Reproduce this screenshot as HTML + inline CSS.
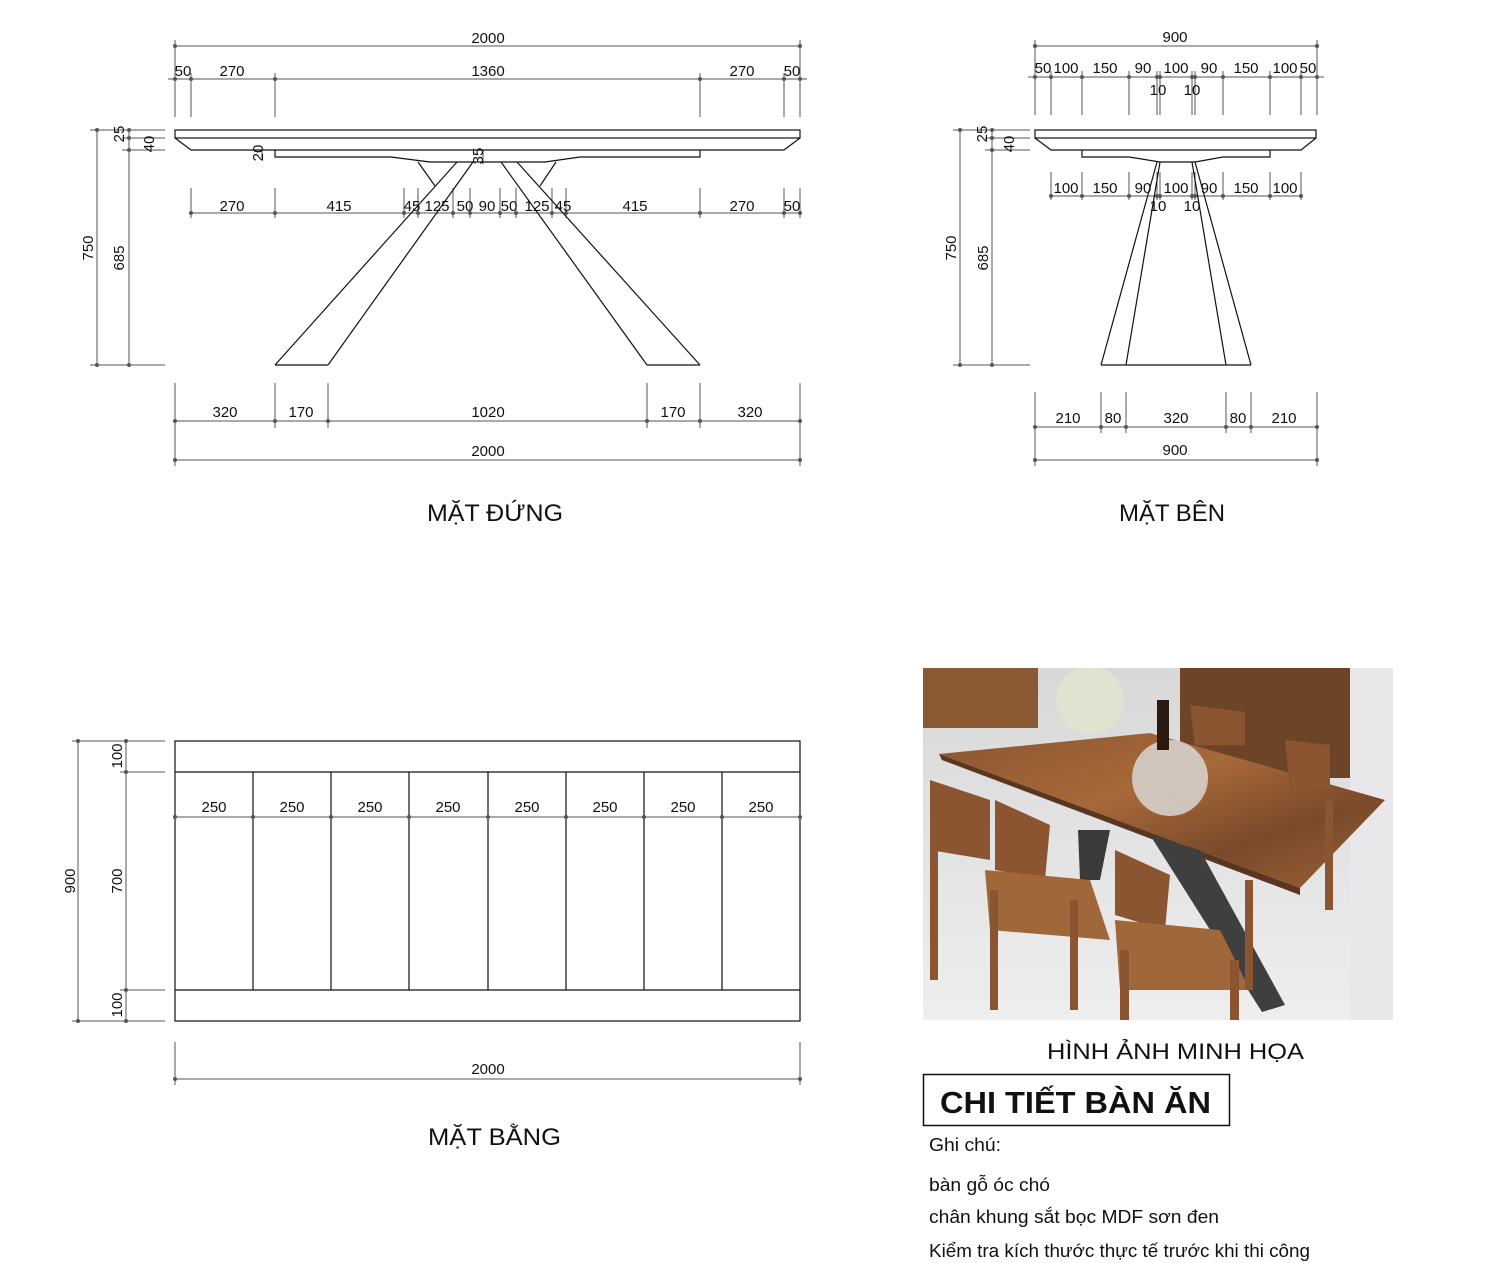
<!DOCTYPE html>
<html><head><meta charset="utf-8"><style>
html,body{margin:0;padding:0;background:#fff;}
svg{display:block;}
text{font-family:"Liberation Sans",sans-serif;}
</style></head><body>
<svg width="1505" height="1263" viewBox="0 0 1505 1263" xmlns="http://www.w3.org/2000/svg">
<defs>
<linearGradient id="wood" x1="0" y1="0" x2="1" y2="1">
<stop offset="0" stop-color="#8a5530"/><stop offset="0.4" stop-color="#a8693a"/><stop offset="0.7" stop-color="#7a4a2a"/><stop offset="1" stop-color="#9a6038"/></linearGradient>
<linearGradient id="floor" x1="0" y1="0" x2="0" y2="1"><stop offset="0" stop-color="#d8d8d8"/><stop offset="1" stop-color="#eeeeee"/></linearGradient>
</defs>
<g fill="none" stroke="#555" stroke-width="1">
<line x1="175" y1="46" x2="800" y2="46"/>
<line x1="168" y1="79" x2="807" y2="79"/>
<line x1="175" y1="40" x2="175" y2="117"/><line x1="800" y1="40" x2="800" y2="117"/>
<line x1="191" y1="73" x2="191" y2="117"/><line x1="275" y1="73" x2="275" y2="117"/>
<line x1="700" y1="73" x2="700" y2="117"/><line x1="784" y1="73" x2="784" y2="117"/>
<line x1="97" y1="130" x2="97" y2="365"/><line x1="129" y1="130" x2="129" y2="365"/>
<line x1="90" y1="130" x2="165" y2="130"/><line x1="122" y1="138" x2="165" y2="138"/>
<line x1="122" y1="150" x2="165" y2="150"/><line x1="90" y1="365" x2="165" y2="365"/>
<line x1="262" y1="150" x2="262" y2="158"/><line x1="483" y1="150" x2="483" y2="164"/>
<line x1="191" y1="213" x2="800" y2="213"/>
<g>
<line x1="191" y1="188" x2="191" y2="218"/><line x1="275" y1="188" x2="275" y2="218"/>
<line x1="404" y1="188" x2="404" y2="218"/><line x1="418" y1="188" x2="418" y2="218"/>
<line x1="453" y1="188" x2="453" y2="218"/><line x1="470" y1="188" x2="470" y2="218"/>
<line x1="500" y1="188" x2="500" y2="218"/><line x1="516" y1="188" x2="516" y2="218"/>
<line x1="552" y1="188" x2="552" y2="218"/><line x1="566" y1="188" x2="566" y2="218"/>
<line x1="700" y1="188" x2="700" y2="218"/><line x1="784" y1="188" x2="784" y2="218"/>
<line x1="800" y1="188" x2="800" y2="218"/>
</g>
<line x1="175" y1="421" x2="800" y2="421"/><line x1="175" y1="460" x2="800" y2="460"/>
<line x1="175" y1="383" x2="175" y2="466"/><line x1="800" y1="383" x2="800" y2="466"/>
<line x1="275" y1="383" x2="275" y2="428"/><line x1="328" y1="383" x2="328" y2="428"/>
<line x1="647" y1="383" x2="647" y2="428"/><line x1="700" y1="383" x2="700" y2="428"/>
</g>
<g fill="none" stroke="#111" stroke-width="1.2">
<rect x="175" y="130" width="625" height="8"/>
<polyline points="175,138 191,150 784,150 800,138"/>
<polyline points="275,150 275,157 391,157 430,162 545,162 580,157 700,157 700,150"/>
<line x1="275" y1="365" x2="328" y2="365"/>
<line x1="275" y1="365" x2="457" y2="162"/><line x1="328" y1="365" x2="473" y2="162"/>
<line x1="647" y1="365" x2="700" y2="365"/>
<line x1="700" y1="365" x2="517" y2="162"/><line x1="647" y1="365" x2="501" y2="162"/>
<line x1="418" y1="162" x2="435" y2="186"/><line x1="556" y1="162" x2="540" y2="186"/>
</g>
<g fill="#555">
<circle cx="175" cy="46" r="2"/><circle cx="800" cy="46" r="2"/>
<circle cx="175" cy="79" r="2"/><circle cx="191" cy="79" r="2"/><circle cx="275" cy="79" r="2"/><circle cx="700" cy="79" r="2"/><circle cx="784" cy="79" r="2"/><circle cx="800" cy="79" r="2"/>
<circle cx="97" cy="130" r="2"/><circle cx="97" cy="365" r="2"/><circle cx="129" cy="130" r="2"/><circle cx="129" cy="138" r="2"/><circle cx="129" cy="150" r="2"/><circle cx="129" cy="365" r="2"/>
<circle cx="191" cy="213" r="2"/><circle cx="275" cy="213" r="2"/><circle cx="404" cy="213" r="2"/><circle cx="418" cy="213" r="2"/><circle cx="453" cy="213" r="2"/><circle cx="470" cy="213" r="2"/><circle cx="500" cy="213" r="2"/><circle cx="516" cy="213" r="2"/><circle cx="552" cy="213" r="2"/><circle cx="566" cy="213" r="2"/><circle cx="700" cy="213" r="2"/><circle cx="784" cy="213" r="2"/><circle cx="800" cy="213" r="2"/>
<circle cx="175" cy="421" r="2"/><circle cx="275" cy="421" r="2"/><circle cx="328" cy="421" r="2"/><circle cx="647" cy="421" r="2"/><circle cx="700" cy="421" r="2"/><circle cx="800" cy="421" r="2"/>
<circle cx="175" cy="460" r="2"/><circle cx="800" cy="460" r="2"/>
</g>
<g font-size="15" fill="#111" text-anchor="middle">
<text x="488" y="43">2000</text>
<text x="183" y="76">50</text><text x="232" y="76">270</text><text x="488" y="76">1360</text><text x="742" y="76">270</text><text x="792" y="76">50</text>
<text x="232" y="211">270</text><text x="339" y="211">415</text><text x="412" y="211">45</text><text x="437" y="211">125</text><text x="465" y="211">50</text><text x="487" y="211">90</text><text x="509" y="211">50</text><text x="537" y="211">125</text><text x="563" y="211">45</text><text x="635" y="211">415</text><text x="742" y="211">270</text><text x="792" y="211">50</text>
<text x="225" y="417">320</text><text x="301" y="417">170</text><text x="488" y="417">1020</text><text x="673" y="417">170</text><text x="750" y="417">320</text>
<text x="488" y="456">2000</text>
<text transform="translate(93,248) rotate(-90)">750</text>
<text transform="translate(124,258) rotate(-90)">685</text>
<text transform="translate(124,134) rotate(-90)">25</text>
<text transform="translate(154,144) rotate(-90)">40</text>
<text transform="translate(263,153) rotate(-90)">20</text>
<text transform="translate(483,156) rotate(-90)">35</text>
</g>
<text x="427" y="521" font-size="24" fill="#111" textLength="136" lengthAdjust="spacingAndGlyphs">MẶT ĐỨNG</text>

<g fill="none" stroke="#555" stroke-width="1">
<line x1="1035" y1="46" x2="1317" y2="46"/>
<line x1="1028" y1="77" x2="1324" y2="77"/>
<line x1="1035" y1="40" x2="1035" y2="115"/><line x1="1317" y1="40" x2="1317" y2="115"/>
<line x1="1051" y1="71" x2="1051" y2="115"/><line x1="1082" y1="71" x2="1082" y2="115"/><line x1="1129" y1="71" x2="1129" y2="115"/>
<line x1="1157" y1="71" x2="1157" y2="115"/><line x1="1160" y1="71" x2="1160" y2="115"/><line x1="1192" y1="71" x2="1192" y2="115"/><line x1="1195" y1="71" x2="1195" y2="115"/>
<line x1="1223" y1="71" x2="1223" y2="115"/><line x1="1270" y1="71" x2="1270" y2="115"/><line x1="1301" y1="71" x2="1301" y2="115"/>
<line x1="960" y1="130" x2="960" y2="365"/><line x1="992" y1="130" x2="992" y2="365"/>
<line x1="953" y1="130" x2="1030" y2="130"/><line x1="985" y1="138" x2="1030" y2="138"/><line x1="985" y1="150" x2="1030" y2="150"/><line x1="953" y1="365" x2="1030" y2="365"/>
<line x1="1051" y1="196" x2="1301" y2="196"/>
<line x1="1051" y1="172" x2="1051" y2="200"/><line x1="1082" y1="172" x2="1082" y2="200"/><line x1="1129" y1="172" x2="1129" y2="200"/><line x1="1157" y1="172" x2="1157" y2="200"/><line x1="1160" y1="172" x2="1160" y2="200"/><line x1="1192" y1="172" x2="1192" y2="200"/><line x1="1195" y1="172" x2="1195" y2="200"/><line x1="1223" y1="172" x2="1223" y2="200"/><line x1="1270" y1="172" x2="1270" y2="200"/><line x1="1301" y1="172" x2="1301" y2="200"/>
<line x1="1035" y1="427" x2="1317" y2="427"/><line x1="1035" y1="460" x2="1317" y2="460"/>
<line x1="1035" y1="392" x2="1035" y2="466"/><line x1="1317" y1="392" x2="1317" y2="466"/>
<line x1="1101" y1="392" x2="1101" y2="433"/><line x1="1126" y1="392" x2="1126" y2="433"/><line x1="1226" y1="392" x2="1226" y2="433"/><line x1="1251" y1="392" x2="1251" y2="433"/>
</g>
<g fill="none" stroke="#111" stroke-width="1.2">
<rect x="1035" y="130" width="281" height="8"/>
<polyline points="1035,138 1051,150 1301,150 1316,138"/>
<polyline points="1082,150 1082,157 1129,157 1160,162 1195,162 1223,157 1270,157 1270,150"/>
<line x1="1157" y1="162" x2="1101" y2="365"/><line x1="1160" y1="162" x2="1126" y2="365"/>
<line x1="1192" y1="162" x2="1226" y2="365"/><line x1="1195" y1="162" x2="1251" y2="365"/>
<line x1="1101" y1="365" x2="1251" y2="365"/>
</g>
<g fill="#555">
<circle cx="1035" cy="46" r="2"/><circle cx="1317" cy="46" r="2"/>
<circle cx="1035" cy="77" r="2"/><circle cx="1051" cy="77" r="2"/><circle cx="1082" cy="77" r="2"/><circle cx="1129" cy="77" r="2"/><circle cx="1157" cy="77" r="2"/><circle cx="1160" cy="77" r="2"/><circle cx="1192" cy="77" r="2"/><circle cx="1195" cy="77" r="2"/><circle cx="1223" cy="77" r="2"/><circle cx="1270" cy="77" r="2"/><circle cx="1301" cy="77" r="2"/><circle cx="1317" cy="77" r="2"/>
<circle cx="960" cy="130" r="2"/><circle cx="960" cy="365" r="2"/><circle cx="992" cy="130" r="2"/><circle cx="992" cy="138" r="2"/><circle cx="992" cy="150" r="2"/><circle cx="992" cy="365" r="2"/>
<circle cx="1051" cy="196" r="2"/><circle cx="1082" cy="196" r="2"/><circle cx="1129" cy="196" r="2"/><circle cx="1157" cy="196" r="2"/><circle cx="1160" cy="196" r="2"/><circle cx="1192" cy="196" r="2"/><circle cx="1195" cy="196" r="2"/><circle cx="1223" cy="196" r="2"/><circle cx="1270" cy="196" r="2"/><circle cx="1301" cy="196" r="2"/>
<circle cx="1035" cy="427" r="2"/><circle cx="1101" cy="427" r="2"/><circle cx="1126" cy="427" r="2"/><circle cx="1226" cy="427" r="2"/><circle cx="1251" cy="427" r="2"/><circle cx="1317" cy="427" r="2"/>
<circle cx="1035" cy="460" r="2"/><circle cx="1317" cy="460" r="2"/>
</g>
<g font-size="15" fill="#111" text-anchor="middle">
<text x="1175" y="42">900</text>
<text x="1043" y="73">50</text><text x="1066" y="73">100</text><text x="1105" y="73">150</text><text x="1143" y="73">90</text><text x="1176" y="73">100</text><text x="1209" y="73">90</text><text x="1246" y="73">150</text><text x="1285" y="73">100</text><text x="1308" y="73">50</text>
<text x="1158" y="95">10</text><text x="1192" y="95">10</text>
<text x="1066" y="193">100</text><text x="1105" y="193">150</text><text x="1143" y="193">90</text><text x="1176" y="193">100</text><text x="1209" y="193">90</text><text x="1246" y="193">150</text><text x="1285" y="193">100</text>
<text x="1158" y="211">10</text><text x="1192" y="211">10</text>
<text x="1068" y="423">210</text><text x="1113" y="423">80</text><text x="1176" y="423">320</text><text x="1238" y="423">80</text><text x="1284" y="423">210</text>
<text x="1175" y="455">900</text>
<text transform="translate(956,248) rotate(-90)">750</text>
<text transform="translate(988,258) rotate(-90)">685</text>
<text transform="translate(987,134) rotate(-90)">25</text>
<text transform="translate(1014,144) rotate(-90)">40</text>
</g>
<text x="1119" y="521" font-size="24" fill="#111" textLength="106" lengthAdjust="spacingAndGlyphs">MẶT BÊN</text>

<g fill="none" stroke="#111" stroke-width="1.2">
<rect x="175" y="741" width="625" height="280"/>
<line x1="175" y1="772" x2="800" y2="772"/><line x1="175" y1="990" x2="800" y2="990"/>
<line x1="253" y1="772" x2="253" y2="990"/><line x1="331" y1="772" x2="331" y2="990"/><line x1="409" y1="772" x2="409" y2="990"/><line x1="488" y1="772" x2="488" y2="990"/><line x1="566" y1="772" x2="566" y2="990"/><line x1="644" y1="772" x2="644" y2="990"/><line x1="722" y1="772" x2="722" y2="990"/>
</g>
<g fill="none" stroke="#555" stroke-width="1">
<line x1="175" y1="817" x2="800" y2="817"/>
<line x1="78" y1="741" x2="78" y2="1021"/><line x1="126" y1="741" x2="126" y2="1021"/>
<line x1="72" y1="741" x2="165" y2="741"/><line x1="120" y1="772" x2="165" y2="772"/><line x1="120" y1="990" x2="165" y2="990"/><line x1="72" y1="1021" x2="165" y2="1021"/>
<line x1="175" y1="1079" x2="800" y2="1079"/>
<line x1="175" y1="1042" x2="175" y2="1085"/><line x1="800" y1="1042" x2="800" y2="1085"/>
</g>
<g fill="#555">
<circle cx="175" cy="817" r="2"/><circle cx="253" cy="817" r="2"/><circle cx="331" cy="817" r="2"/><circle cx="409" cy="817" r="2"/><circle cx="488" cy="817" r="2"/><circle cx="566" cy="817" r="2"/><circle cx="644" cy="817" r="2"/><circle cx="722" cy="817" r="2"/><circle cx="800" cy="817" r="2"/>
<circle cx="78" cy="741" r="2"/><circle cx="78" cy="1021" r="2"/><circle cx="126" cy="741" r="2"/><circle cx="126" cy="772" r="2"/><circle cx="126" cy="990" r="2"/><circle cx="126" cy="1021" r="2"/>
<circle cx="175" cy="1079" r="2"/><circle cx="800" cy="1079" r="2"/>
</g>
<g font-size="15" fill="#111" text-anchor="middle">
<text x="214" y="812">250</text><text x="292" y="812">250</text><text x="370" y="812">250</text><text x="448" y="812">250</text><text x="527" y="812">250</text><text x="605" y="812">250</text><text x="683" y="812">250</text><text x="761" y="812">250</text>
<text x="488" y="1074">2000</text>
<text transform="translate(75,881) rotate(-90)">900</text>
<text transform="translate(122,756) rotate(-90)">100</text>
<text transform="translate(122,881) rotate(-90)">700</text>
<text transform="translate(122,1005) rotate(-90)">100</text>
</g>
<text x="428" y="1145" font-size="24" fill="#111" textLength="133" lengthAdjust="spacingAndGlyphs">MẶT BẰNG</text>

<svg x="923" y="668" width="470" height="352" viewBox="923 668 470 352">
<rect x="923" y="668" width="470" height="352" fill="url(#floor)"/>
<rect x="923" y="668" width="115" height="60" fill="#8a5a35"/>
<rect x="1180" y="668" width="170" height="110" fill="#6e4428"/>
<rect x="1350" y="668" width="43" height="352" fill="#e8e8ea"/>
<polygon points="939,754 1150,733 1385,800 1300,888" fill="url(#wood)"/>
<polygon points="939,754 1300,888 1300,895 942,760" fill="#5a3620"/>
<polygon points="1078,830 1110,830 1100,880 1080,880" fill="#3a3a3a"/>
<polygon points="1150,835 1200,850 1285,1005 1262,1012" fill="#3f3f3f"/>
<circle cx="1170" cy="778" r="38" fill="#ddd" opacity="0.8"/>
<circle cx="1090" cy="700" r="34" fill="#dfe3cf"/>
<rect x="1157" y="700" width="12" height="50" fill="#2a1a10"/>
<g fill="#8a5530">
<polygon points="930,780 990,800 990,860 930,850"/>
<polygon points="995,800 1050,825 1045,880 995,870"/>
<polygon points="985,870 1090,880 1110,940 990,930" fill="#a0683a"/>
<rect x="990" y="890" width="8" height="120"/><rect x="1070" y="900" width="8" height="110"/>
<polygon points="1115,850 1170,875 1165,930 1115,915"/>
<polygon points="1115,920 1220,930 1250,990 1120,990" fill="#a0683a"/>
<rect x="1120" y="950" width="9" height="70"/><rect x="1230" y="960" width="9" height="60"/>
<polygon points="1285,740 1330,745 1330,790 1290,790"/>
<polygon points="1190,705 1245,712 1245,745 1195,745"/>
<rect x="1325" y="800" width="8" height="110"/><rect x="1245" y="880" width="8" height="110"/>
<rect x="930" y="850" width="8" height="130"/>
</g>
</svg>
<text x="1047" y="1059" font-size="22" fill="#111" textLength="257" lengthAdjust="spacingAndGlyphs">HÌNH ẢNH MINH HỌA</text>
<rect x="923.5" y="1074.5" width="306" height="51" fill="none" stroke="#111" stroke-width="1.5"/>
<text x="940" y="1113" font-size="31" font-weight="bold" fill="#111" textLength="271" lengthAdjust="spacingAndGlyphs">CHI TIẾT BÀN ĂN</text>
<g font-size="18" fill="#111">
<text x="929" y="1151" textLength="72" lengthAdjust="spacingAndGlyphs">Ghi chú:</text>
<text x="929" y="1191" textLength="121" lengthAdjust="spacingAndGlyphs">bàn gỗ óc chó</text>
<text x="929" y="1223" textLength="290" lengthAdjust="spacingAndGlyphs">chân khung sắt bọc MDF sơn đen</text>
<text x="929" y="1257" textLength="381" lengthAdjust="spacingAndGlyphs">Kiểm tra kích thước thực tế trước khi thi công</text>
</g>
</svg>
</body></html>
